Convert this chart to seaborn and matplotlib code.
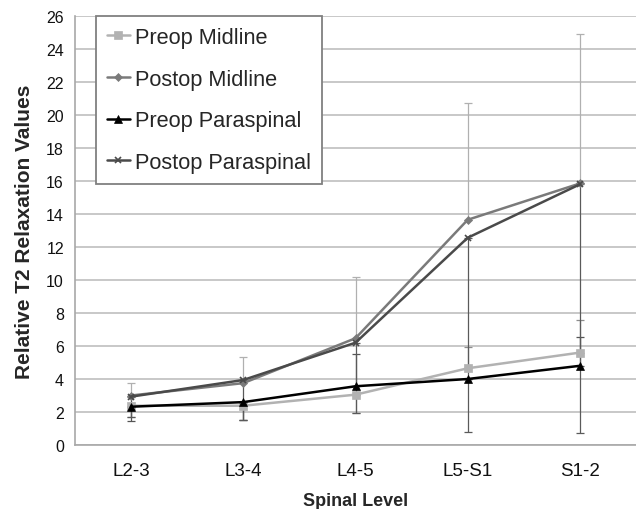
import matplotlib
matplotlib.use("Agg")
import matplotlib.pyplot as plt
import seaborn as sns
import pandas as pd
import numpy as np

levels = ["L2-3", "L3-4", "L4-5", "L5-S1", "S1-2"]
series_names = ["Preop Midline", "Postop Midline", "Preop Paraspinal", "Postop Paraspinal"]

preop_midline = [2.38, 2.38, 3.05, 4.65, 5.60]
postop_midline = [3.00, 3.75, 6.47, 13.65, 15.85]
preop_paraspinal = [2.32, 2.60, 3.56, 4.00, 4.80]
postop_paraspinal = [2.93, 3.94, 6.20, 12.56, 15.80]

# error bars (lower, upper) per series
preop_midline_err_lo = [0.70, 0.86, 1.11, 0.0, 0.0]
preop_midline_err_hi = [0.0, 0.0, 0.0, 1.31, 1.96]
postop_midline_err_lo = [0.0, 0.0, 0.0, 0.0, 0.0]
postop_midline_err_hi = [0.74, 1.56, 3.69, 7.05, 9.05]
preop_paraspinal_err_lo = [0.85, 1.08, 0.0, 0.0, 0.0]
preop_paraspinal_err_hi = [0.0, 0.0, 1.96, 0.0, 1.76]
postop_paraspinal_err_lo = [1.25, 2.42, 4.26, 11.76, 15.05]
postop_paraspinal_err_hi = [0.0, 0.0, 0.0, 0.0, 0.0]

values = [preop_midline, postop_midline, preop_paraspinal, postop_paraspinal]
err_lo = [preop_midline_err_lo, postop_midline_err_lo, preop_paraspinal_err_lo, postop_paraspinal_err_lo]
err_hi = [preop_midline_err_hi, postop_midline_err_hi, preop_paraspinal_err_hi, postop_paraspinal_err_hi]

colors = ["#b2b2b2", "#7a7a7a", "#000000", "#4a4a4a"]
err_colors = ["#8c8c8c", "#b0b0b0", "#555555", "#5a5a5a"]
markers = ["s", "D", "^", "x"]
msizes = [6, 4.5, 5.5, 5]

df = pd.DataFrame({
    "Spinal Level": np.repeat([levels], len(series_names), axis=0).ravel(),
    "Value": np.concatenate(values),
    "Series": np.repeat(series_names, len(levels)),
})

sns.set_style("white")
plt.rcParams["font.family"] = ["Liberation Sans", "DejaVu Sans"]

fig = plt.figure(figsize=(6.36, 5.10), dpi=100)
ax = fig.add_axes([75 / 636, 1 - 446 / 510, (636 - 75) / 636, (446 - 17) / 510])

ax.set_ylim(0, 26)
ax.set_yticks(np.arange(0, 27, 2))
ax.grid(axis="y", color="#c4c4c4", linewidth=1.3, zorder=0)
ax.set_axisbelow(True)

for i, name in enumerate(series_names):
    ax.errorbar(levels, values[i], yerr=[err_lo[i], err_hi[i]], fmt="none",
                ecolor=err_colors[i], elinewidth=0.9, capsize=3, capthick=0.9, zorder=2)

for i, name in enumerate(series_names):
    sub = df[df["Series"] == name]
    sns.lineplot(data=sub, x="Spinal Level", y="Value", ax=ax, sort=False,
                 color=colors[i], marker=markers[i], markersize=msizes[i],
                 markeredgecolor=colors[i], markerfacecolor=colors[i],
                 markeredgewidth=1.2 if markers[i] == "x" else 0.5,
                 linewidth=1.8, label=name, zorder=3)

ax.set_xlim(-0.5, 4.5)
ax.set_xticks(range(len(levels)))
ax.set_xticklabels(levels, fontsize=13.5)
ax.set_xticks(np.arange(-0.5, 5.0, 1.0), minor=True)
ax.tick_params(axis="x", which="major", length=0, pad=12)
ax.tick_params(axis="x", which="minor", length=5, color="#a0a0a0", width=1, direction="out")
ax.tick_params(axis="y", which="major", length=5, color="#a0a0a0", width=1, direction="out",
               labelsize=11.5, pad=3)
for lab in ax.get_xticklabels() + ax.get_yticklabels():
    lab.set_color("#111111")

for s in ["top", "right"]:
    ax.spines[s].set_visible(False)
for s in ["left", "bottom"]:
    ax.spines[s].set_color("#a8a8a8")
    ax.spines[s].set_linewidth(1.2)

ax.set_ylabel("Relative T2 Relaxation Values", fontsize=15, fontweight="bold", labelpad=9)
ax.set_xlabel("Spinal Level", fontsize=13, fontweight="bold", labelpad=9.5)

leg = ax.legend(loc="upper left", bbox_to_anchor=(21 / 561, 1.0), fontsize=15.7,
                frameon=True, fancybox=False, edgecolor="#808080", framealpha=1,
                handlelength=1.05, handletextpad=0.25, labelspacing=0.95,
                borderpad=0.5, borderaxespad=0.0)
leg.get_frame().set_linewidth(1.3)

fig.savefig("out.png", dpi=100)
